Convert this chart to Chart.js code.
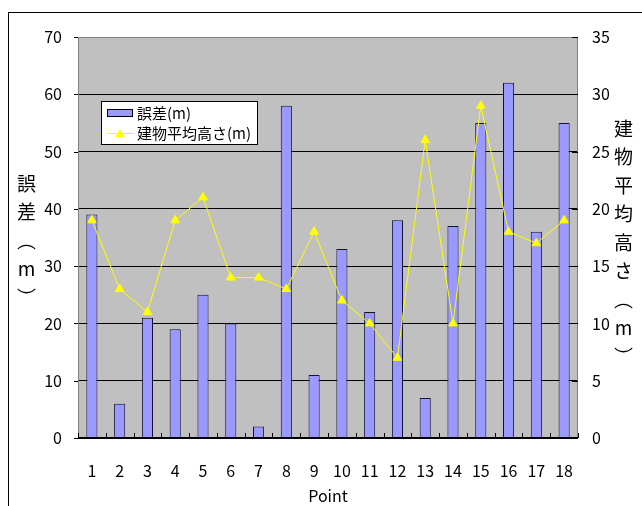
<!DOCTYPE html>
<html>
<head>
<meta charset="utf-8">
<script src="https://cdn.jsdelivr.net/npm/chart.js@4.4.1/dist/chart.umd.min.js"></script>
<style>
  html, body { margin: 0; padding: 0; background: #fff; overflow: hidden; }
  #wrap { position: relative; width: 642px; height: 506px; overflow: hidden; }
  #frame { position: absolute; left: 8px; top: 12px; width: 800px; height: 700px; border: 1px solid #000; box-sizing: border-box; }
  canvas { position: absolute; left: 0; top: 0; }
  .vtitle { position: absolute; writing-mode: vertical-rl; text-orientation: upright;
            font-family: "Noto Sans CJK JP", sans-serif; font-size: 19px; letter-spacing: 9.5px;
            line-height: 19px; color: #000; }
</style>
</head>
<body>
<div id="wrap">
  <div id="frame"></div>
  <canvas id="c" width="642" height="506"></canvas>
  <div class="vtitle" id="ltitle" style="left:17px; top:174px;"></div>
  <div class="vtitle" id="rtitle" style="left:614px; top:119px;"></div>
</div>
<script>
const categories = ['1','2','3','4','5','6','7','8','9','10','11','12','13','14','15','16','17','18'];
const errorValues = [39, 6, 21, 19, 25, 20, 2, 58, 11, 33, 22, 38, 7, 37, 55, 62, 36, 55];
const heightValues = [19, 13, 11, 19, 21, 14, 14, 13, 18, 12, 10, 7, 26, 10, 29, 18, 17, 19];
const errorLabel = '誤差(m)';
const heightLabel = '建物平均高さ(m)';
const leftTitle = '誤差（m）';
const rightTitle = '建物平均高さ（m）';
const xTitle = 'Point';
const leftTicks = [0, 10, 20, 30, 40, 50, 60, 70];
const rightTicks = [0, 5, 10, 15, 20, 25, 30, 35];

document.getElementById('ltitle').textContent = leftTitle;
document.getElementById('rtitle').textContent = rightTitle;

const FONT = '"Noto Sans CJK JP", sans-serif';

const plotDeco = {
  id: 'plotDeco',
  beforeDraw(chart) {
    const {ctx, chartArea: a} = chart;
    ctx.save();
    ctx.fillStyle = '#C0C0C0';
    ctx.fillRect(a.left, a.top, a.right - a.left, a.bottom - a.top);
    ctx.restore();
  },
  afterDraw(chart) {
    const {ctx, chartArea: a} = chart;
    ctx.save();
    ctx.lineWidth = 1;
    // plot frame
    ctx.strokeStyle = '#808080';
    ctx.beginPath();
    ctx.moveTo(a.left + 0.5, a.bottom);
    ctx.lineTo(a.left + 0.5, a.top + 0.5);
    ctx.lineTo(a.right - 0.5, a.top + 0.5);
    ctx.lineTo(a.right - 0.5, a.bottom);
    ctx.stroke();
    ctx.strokeStyle = '#000';
    ctx.beginPath();
    ctx.moveTo(a.left, a.bottom - 0.5);
    ctx.lineTo(a.right, a.bottom - 0.5);
    ctx.stroke();
    // inward x ticks at category boundaries
    const xs = chart.scales.x;
    const step = xs.getPixelForTick(1) - xs.getPixelForTick(0);
    ctx.strokeStyle = '#000';
    ctx.beginPath();
    for (let i = 0; i <= categories.length; i++) {
      const x = Math.round(xs.getPixelForTick(0) + (i - 0.5) * step) + 0.5;
      ctx.moveTo(x, a.bottom);
      ctx.lineTo(x, a.bottom - 5);
    }
    ctx.stroke();
    // inward right-axis ticks
    const ys = chart.scales.y2;
    ctx.beginPath();
    rightTicks.forEach(v => {
      const y = Math.round(ys.getPixelForValue(v)) + 0.5;
      ctx.moveTo(a.right, y);
      ctx.lineTo(a.right - 6, y);
    });
    ctx.stroke();
    // outward left ticks
    const yl = chart.scales.y;
    ctx.beginPath();
    leftTicks.forEach(v => {
      const y = Math.round(yl.getPixelForValue(v)) + 0.5;
      ctx.moveTo(a.left, y);
      ctx.lineTo(a.left - 4, y);
    });
    ctx.stroke();

    // legend
    const lx = 101, ly = 101, lw = 156, lh = 43;
    ctx.fillStyle = '#fff';
    ctx.fillRect(lx, ly, lw, lh);
    ctx.strokeStyle = '#000';
    ctx.strokeRect(lx + 0.5, ly + 0.5, lw, lh);
    const ds = chart.data.datasets;
    // bar entry
    ctx.fillStyle = ds[1].backgroundColor;
    ctx.fillRect(107, 109, 25, 7);
    ctx.strokeStyle = '#000';
    ctx.strokeRect(107.5, 109.5, 25, 7);
    ctx.fillStyle = '#000';
    ctx.font = '15px ' + FONT;
    ctx.textBaseline = 'middle';
    ctx.textAlign = 'left';
    ctx.fillText(ds[1].label, 137, 113);
    // line entry
    ctx.strokeStyle = ds[0].borderColor;
    ctx.beginPath();
    ctx.moveTo(107, 133.5);
    ctx.lineTo(133, 133.5);
    ctx.stroke();
    ctx.fillStyle = ds[0].borderColor;
    ctx.beginPath();
    ctx.moveTo(120, 129);
    ctx.lineTo(124.5, 137);
    ctx.lineTo(115.5, 137);
    ctx.closePath();
    ctx.fill();
    ctx.fillStyle = '#000';
    ctx.fillText(ds[0].label, 137, 133);
    ctx.restore();
  }
};

new Chart(document.getElementById('c'), {
  type: 'bar',
  data: {
    labels: categories,
    datasets: [
      {
        type: 'line',
        label: heightLabel,
        data: heightValues,
        yAxisID: 'y2',
        borderColor: '#FFFF00',
        backgroundColor: '#FFFF00',
        borderWidth: 1,
        pointStyle: 'triangle',
        pointRadius: 5,
        pointBackgroundColor: '#FFFF00',
        pointBorderColor: '#FFFF00',
        tension: 0,
        order: 0
      },
      {
        type: 'bar',
        label: errorLabel,
        data: errorValues,
        yAxisID: 'y',
        backgroundColor: '#9999FF',
        borderColor: '#111133',
        borderWidth: 1,
        barPercentage: 0.4,
        categoryPercentage: 1.0,
        order: 1
      }
    ]
  },
  options: {
    responsive: false,
    animation: false,
    devicePixelRatio: 1,
    layout: { padding: { top: 37, left: 0, right: 0, bottom: 0 } },
    plugins: { legend: { display: false }, tooltip: { enabled: false } },
    scales: {
      x: {
        type: 'category',
        offset: true,
        grid: { display: false, drawTicks: false },
        border: { display: false },
        ticks: { color: '#000', font: { family: FONT, size: 16 }, padding: 23, maxRotation: 0, autoSkip: false },
        title: { display: true, text: xTitle, color: '#000', font: { family: FONT, size: 16 }, padding: { top: 0, bottom: 0 } },
        afterFit(s) { s.height = 68; }
      },
      y: {
        position: 'left',
        min: 0, max: 70,
        afterBuildTicks(s) { s.ticks = leftTicks.map(v => ({ value: v })); },
        grid: {
          color: ctx => (ctx.tick && ctx.tick.value === 70) ? 'rgba(0,0,0,0)' : '#000',
          lineWidth: 1,
          drawTicks: false
        },
        border: { display: false },
        ticks: { color: '#000', font: { family: FONT, size: 16 }, padding: 16 },
        afterFit(s) { s.width = 78; }
      },
      y2: {
        position: 'right',
        min: 0, max: 35,
        afterBuildTicks(s) { s.ticks = rightTicks.map(v => ({ value: v })); },
        grid: { drawOnChartArea: false, drawTicks: false },
        border: { display: false },
        ticks: { color: '#000', font: { family: FONT, size: 16 }, padding: 14 },
        afterFit(s) { s.width = 64; }
      }
    }
  },
  plugins: [plotDeco]
});
</script>
</body>
</html>
